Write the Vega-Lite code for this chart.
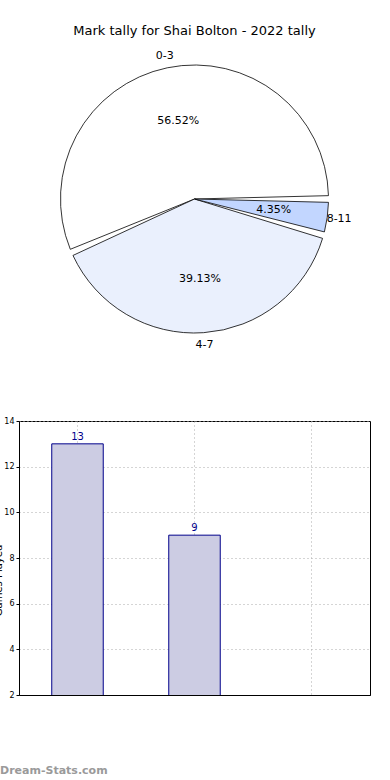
{
  "$schema": "https://vega.github.io/schema/vega-lite/v6.json",
  "padding": {"left": -8, "top": 25, "right": 20, "bottom": 0},
  "config": {
    "font": "DejaVu Sans",
    "view": {"stroke": null},
    "title": {"fontWeight": "normal"}
  },
  "datasets": {
    "tally": [
      {"range": "0-3", "games": 13, "pct": "56.52%"},
      {"range": "4-7", "games": 9, "pct": "39.13%"},
      {"range": "8-11", "games": 1, "pct": "4.35%"}
    ]
  },
  "spacing": 64,
  "vconcat": [
    {
      "title": {"text": "Mark tally for Shai Bolton - 2022 tally", "fontSize": 13, "color": "black", "offset": 8},
      "width": 351,
      "height": 306,
      "data": {"name": "tally"},
      "encoding": {
        "theta": {"field": "games", "type": "quantitative", "stack": true, "scale": {"range": [1.5708, 7.85398]}},
        "order": {"field": "range", "sort": "descending"}
      },
      "layer": [
        {
          "mark": {"type": "arc", "outerRadius": 134, "stroke": "black", "strokeWidth": 0.8, "padAngle": 0.05},
          "encoding": {
            "color": {"field": "range", "type": "nominal", "scale": {"domain": ["0-3", "4-7", "8-11"], "range": ["#ffffff", "#eaf0fd", "#c2d6ff"]}, "legend": null}
          }
        },
        {
          "mark": {"type": "text", "radius": 146, "fontSize": 11, "color": "black"},
          "encoding": {"text": {"field": "range", "type": "nominal"}}
        },
        {
          "mark": {"type": "text", "radius": 80, "fontSize": 11, "color": "black"},
          "encoding": {"text": {"field": "pct", "type": "nominal"}}
        }
      ]
    },
    {
      "width": 351,
      "height": 274,
      "view": {"stroke": "black", "strokeWidth": 1},
      "data": {"name": "tally"},
      "title": {"text": "Dream-Stats.com", "orient": "bottom", "anchor": "start", "frame": "group", "dx": -19, "offset": 66, "color": "#9a9a9a", "fontSize": 11, "fontWeight": "bold"},
      "encoding": {
        "x": {
          "field": "range", "type": "nominal",
          "scale": {"paddingInner": 0.56, "paddingOuter": 0.28},
          "axis": {"labels": false, "ticks": false, "title": null, "grid": true, "bandPosition": 0.5, "gridDash": [1, 3], "gridColor": "#aaaaaa", "domainColor": "black"}
        },
        "y": {
          "field": "games", "type": "quantitative",
          "scale": {"domain": [2, 14], "nice": false},
          "axis": {"values": [2, 4, 6, 8, 10, 12, 14], "labelFontSize": 8, "labelColor": "black", "tickColor": "black", "tickSize": 3, "grid": true, "gridDash": [1, 3], "gridColor": "#aaaaaa", "domainColor": "black", "title": "Games Played", "titleFontSize": 10, "titleFontWeight": "normal", "titleX": -16, "titleY": 159, "titleBaseline": "bottom", "titleColor": "black"}
        }
      },
      "layer": [
        {"mark": {"type": "bar", "clip": true, "fill": "#ccccE3", "stroke": "#00008b", "strokeWidth": 1}},
        {
          "mark": {"type": "text", "clip": true, "dy": -7, "color": "#00008b", "fontSize": 10},
          "encoding": {"text": {"field": "games", "type": "quantitative"}}
        }
      ]
    }
  ]
}
